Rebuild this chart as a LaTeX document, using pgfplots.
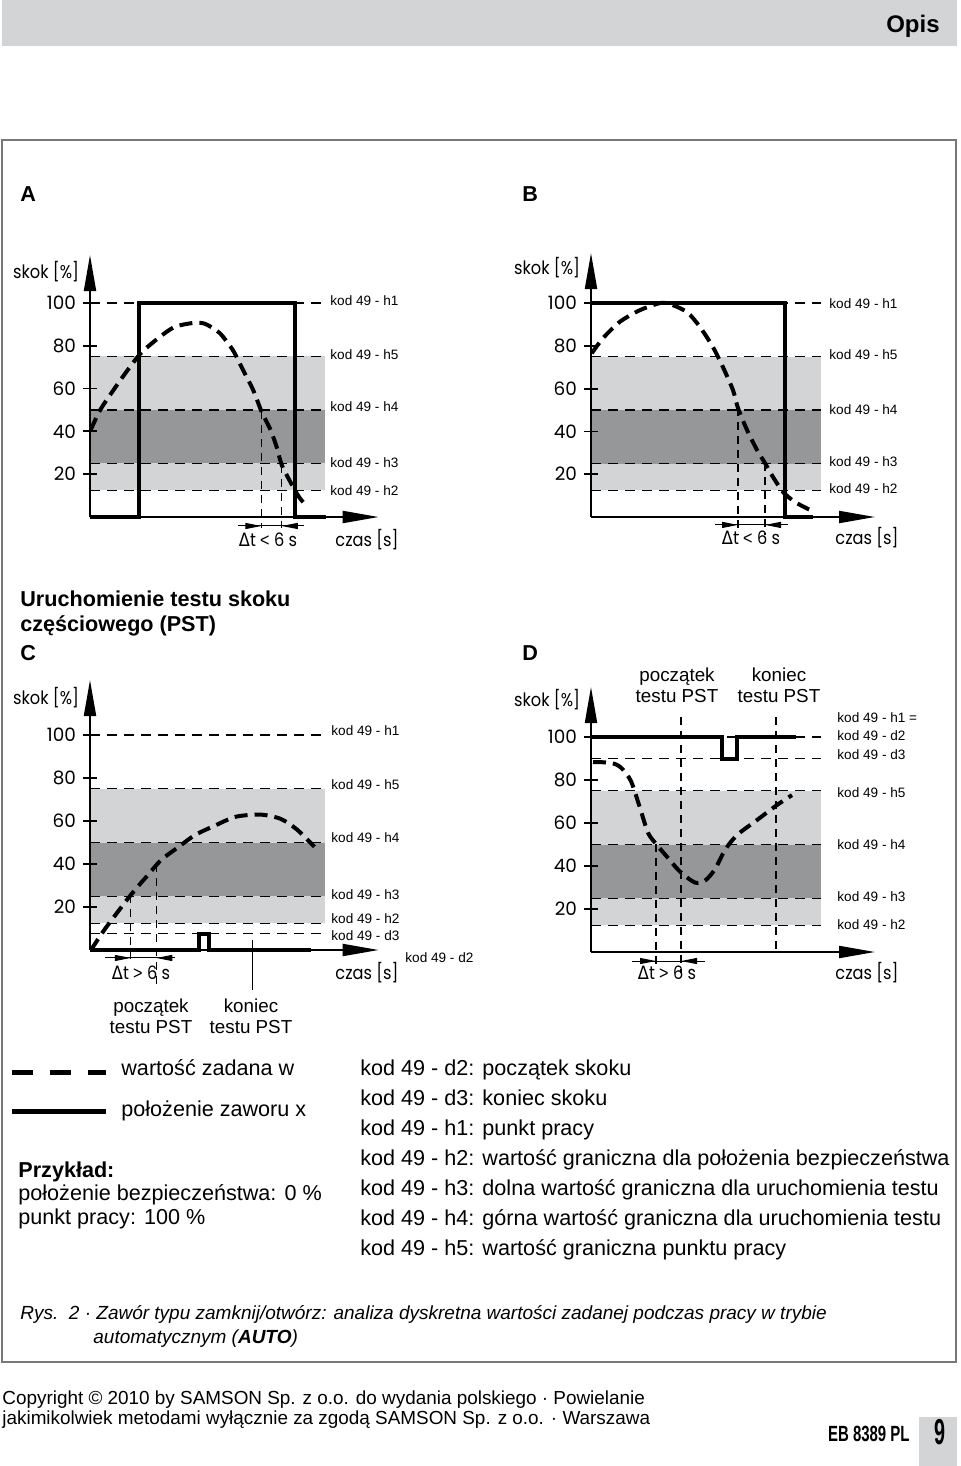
\documentclass[border=0pt]{standalone}
\usepackage{fontspec}
\setmainfont{Liberation Sans}
\newfontfamily\fut{Poppins}
\newfontfamily\dej{DejaVu Sans}
\usepackage{pgfplots}
\pgfplotsset{compat=1.18}
\usetikzlibrary{arrows.meta}
\definecolor{bandL}{RGB}{211,212,214}
\definecolor{bandD}{RGB}{150,151,153}
\definecolor{hdr}{RGB}{211,212,214}
\definecolor{frm}{RGB}{120,120,120}
\newcommand\futf{\fut\fontsize{9.2}{11}\selectfont}
\newcommand\fl[1]{\scalebox{0.88}[1]{\fut\fontsize{9.2}{11}\selectfont #1}}
\newcommand\kodf{\fontsize{6.8}{8}\selectfont}
\newcommand\bodyf{\fontsize{10.8}{15}\selectfont}
\newcommand\smf{\fontsize{9.4}{11}\selectfont}
\newcommand\dt{{\dej Δ}t}
\pgfplotsset{
  valve/.style={
    scale only axis, axis lines=left, axis on top,
    every outer x axis line/.append style={line width=1pt,-{Triangle[length=18pt,width=6pt]}},
    every outer y axis line/.append style={line width=1pt,-{Triangle[length=18pt,width=6pt]}},
    axis line style={line width=1pt,-{Triangle[length=18pt,width=6pt]}},
    xmin=0, ymin=0, xtick=\empty, ytick={20,40,60,80,100},
    tick align=center, major tick length=7pt, tick style={line width=0.9pt, black},
    yticklabel style={font=\futf},
    /pgf/number format/assume math mode=true,
    clip=false,
  },
  hline/.style={black, line width=0.6pt, dash pattern=on 5pt off 3.5pt},
  setw/.style={black, line width=2pt, dash pattern=on 6.5pt off 3.5pt, smooth, tension=0.45},
  posx/.style={black, line width=2pt},
  vline/.style={black, line width=0.6pt, dash pattern=on 4pt off 3pt},
  dtarr/.style={black, line width=0.5pt, -{Triangle[length=8pt,width=3pt]}},
}
\begin{document}
\begin{tikzpicture}[x=0.5pt,y=-0.5pt]
\useasboundingbox (0,0) rectangle (960,1466);
% header and frame
\fill[hdr] (2,0) rectangle (957,46);
\node[anchor=base east, inner sep=0pt, font=\bfseries\fontsize{12}{14}\selectfont] at (940,33) {Opis};
\draw[frm, line width=1pt] (2,140) rectangle (956,1362);
\node[anchor=base west, inner sep=0pt, font=\bfseries\bodyf] at (20,202) {A};
\node[anchor=base west, inner sep=0pt, font=\bfseries\bodyf] at (522,202) {B};

% ---------------- A ----------------
\begin{axis}[valve, at={(45pt,-258.5pt)}, anchor=south west, width=141.5pt, height=131pt, xmax=283, ymax=122.4]
\addplot[fill=bandL, draw=none] coordinates {(0,12.5)(230,12.5)(230,75)(0,75)};
\addplot[fill=bandD, draw=none] coordinates {(0,25)(230,25)(230,50)(0,50)};
\addplot[hline] coordinates {(0,100)(230,100)};
\addplot[hline] coordinates {(0,75)(230,75)};
\addplot[hline] coordinates {(0,50)(230,50)};
\addplot[hline] coordinates {(0,25)(230,25)};
\addplot[hline] coordinates {(0,12.5)(230,12.5)};
\addplot[setw] coordinates {(0.7,40.7)(10,50)(23,59.3)(37,68.7)(50,76.6)(67,83.6)(83,88.8)(102,90.7)(113,90.2)(127,86)(140,78)(150,68.7)(160,59.3)(168,49.5)(177,40.7)(183,32.7)(188,24.3)(197,15.9)(205,9.3)(213,4.7)};
\addplot[posx] coordinates {(0,0)(48,0)(48,100)(201,100)(201,0)(231,0)};
\addplot[vline] coordinates {(168,49.5)(168,-5.1)};
\addplot[vline] coordinates {(188,24.3)(188,-5.1)};
\addplot[black, line width=0.5pt] coordinates {(145,-4.2)(210,-4.2)};
\addplot[dtarr] coordinates {(145,-4.2)(168,-4.2)};
\addplot[dtarr] coordinates {(210,-4.2)(188,-4.2)};
\end{axis}

% ---------------- B ----------------
\begin{axis}[valve, at={(295.5pt,-258.5pt)}, anchor=south west, width=142pt, height=132pt, xmax=284, ymax=123.4]
\addplot[fill=bandL, draw=none] coordinates {(0,12.5)(230,12.5)(230,75)(0,75)};
\addplot[fill=bandD, draw=none] coordinates {(0,25)(230,25)(230,50)(0,50)};
\addplot[hline] coordinates {(0,100)(230,100)};
\addplot[hline] coordinates {(0,75)(230,75)};
\addplot[hline] coordinates {(0,50)(230,50)};
\addplot[hline] coordinates {(0,25)(230,25)};
\addplot[hline] coordinates {(0,12.5)(230,12.5)};
\addplot[setw] coordinates {(0.7,76.5)(12,83.6)(29,91.3)(49,96.7)(69,100)(79,99.5)(96,95.8)(109,88.8)(122,79.4)(132,70)(142,59.3)(147,50.9)(156,40.7)(166,31.3)(174,25.2)(182,18.7)(192,11.7)(204,7)(219,3.3)};
\addplot[posx] coordinates {(0,100)(194,100)(194,0)(222,0)};
\addplot[vline] coordinates {(147,50.9)(147,-8.4)};
\addplot[vline] coordinates {(174,25.2)(174,-8.4)};
\addplot[black, line width=0.5pt] coordinates {(124,-3.7)(197,-3.7)};
\addplot[dtarr] coordinates {(124,-3.7)(147,-3.7)};
\addplot[dtarr] coordinates {(197,-3.7)(174,-3.7)};
\end{axis}

% ---------------- C ----------------
\begin{axis}[valve, at={(45pt,-475pt)}, anchor=south west, width=141.5pt, height=135pt, xmax=283, ymax=125.6]
\addplot[fill=bandL, draw=none] coordinates {(0,12.5)(230,12.5)(230,75)(0,75)};
\addplot[fill=bandD, draw=none] coordinates {(0,25)(230,25)(230,50)(0,50)};
\addplot[hline] coordinates {(0,100)(230,100)};
\addplot[hline] coordinates {(0,75)(230,75)};
\addplot[hline] coordinates {(0,50)(230,50)};
\addplot[hline] coordinates {(0,25)(230,25)};
\addplot[hline] coordinates {(0,12.5)(230,12.5)};
\addplot[hline] coordinates {(0,7.5)(230,7.5)};
\addplot[setw] coordinates {(1,0)(15,10)(40,25.6)(57,35)(70,42)(87,48)(103,53.5)(123,58)(143,62)(167,63)(187,61)(203,56)(220,48)};
\addplot[posx] coordinates {(0,0)(107,0)(107,7.5)(117,7.5)(117,0)(217,0)};
\addplot[vline] coordinates {(40,25.6)(40,-4.7)};
\addplot[vline] coordinates {(65,40)(65,-18.6)};
\addplot[black, line width=0.6pt] coordinates {(159,4.7)(159,-18.6)};
\addplot[black, line width=0.5pt] coordinates {(15,-3.7)(83,-3.7)};
\addplot[dtarr] coordinates {(15,-3.7)(40,-3.7)};
\addplot[dtarr] coordinates {(83,-3.7)(65,-3.7)};
\end{axis}

% ---------------- D ----------------
\begin{axis}[valve, at={(295.5pt,-476pt)}, anchor=south west, width=142pt, height=132.5pt, xmax=284, ymax=123.3]
\addplot[fill=bandL, draw=none] coordinates {(0,12.5)(230,12.5)(230,75)(0,75)};
\addplot[fill=bandD, draw=none] coordinates {(0,25)(230,25)(230,50)(0,50)};
\addplot[hline] coordinates {(0,100)(230,100)};
\addplot[hline] coordinates {(0,90)(230,90)};
\addplot[hline] coordinates {(0,75)(230,75)};
\addplot[hline] coordinates {(0,50)(230,50)};
\addplot[hline] coordinates {(0,25)(230,25)};
\addplot[hline] coordinates {(0,12.5)(230,12.5)};
\addplot[setw] coordinates {(2,88.4)(20,88)(30,85.8)(40,79.5)(49,67)(57,55.5)(65,50.3)(76,44.3)(89,37.4)(104,32.3)(114,33.2)(124,38.5)(134,47.5)(146,54.4)(166,61.4)(186,68.4)(201,73)};
\addplot[posx] coordinates {(0,100)(131,100)(131,90)(146,90)(146,100)(205,100)};
\addplot[vline] coordinates {(65,50.3)(65,-7.4)};
\addplot[vline] coordinates {(90,109.3)(90,-9.8)};
\addplot[vline] coordinates {(185,109.3)(185,0)};
\addplot[black, line width=0.5pt] coordinates {(41,-4.2)(114,-4.2)};
\addplot[dtarr] coordinates {(41,-4.2)(65,-4.2)};
\addplot[dtarr] coordinates {(114,-4.2)(90,-4.2)};
\end{axis}

% ----- chart texts -----
\foreach \x/\y in {46/272,547/268,46/698,547/700}{\node[inner sep=0pt] at (\x,\y) {\fl{skok [\%]}};}
\foreach \x/\y in {367/540,867/538,367/973,867/973}{\node[inner sep=0pt] at (\x,\y) {\fl{czas [s]}};}
\node[inner sep=0pt] at (268,540) {\fl{\dt\ {\rmfamily <} 6 s}};
\node[inner sep=0pt] at (751,538) {\fl{\dt\ {\rmfamily <} 6 s}};
\node[inner sep=0pt] at (141,973) {\fl{\dt\ {\rmfamily >} 6 s}};
\node[inner sep=0pt] at (667,973) {\fl{\dt\ {\rmfamily >} 6 s}};

\foreach \y/\t in {305.5/h1,359/h5,411.5/h4,467/h3,495/h2}{\node[anchor=base west,inner sep=0pt,font=\kodf] at (330,\y) {kod 49 - \t};}
\foreach \y/\t in {308/h1,359/h5,414/h4,466/h3,493/h2}{\node[anchor=base west,inner sep=0pt,font=\kodf] at (829,\y) {kod 49 - \t};}
\foreach \y/\t in {735/h1,789/h5,842/h4,899/h3,923/h2,940/d3}{\node[anchor=base west,inner sep=0pt,font=\kodf] at (331,\y) {kod 49 - \t};}
\node[anchor=base west,inner sep=0pt,font=\kodf] at (405,962) {kod 49 - d2};
\foreach \y/\t in {722/{h1 =},740/d2,759/d3,797/h5,849/h4,901/h3,929/h2}{\node[anchor=base west,inner sep=0pt,font=\kodf] at (837,\y) {kod 49 - \t};}

\node[anchor=base west, inner sep=0pt, font=\bfseries\bodyf] at (20,606) {Uruchomienie testu skoku};
\node[anchor=base west, inner sep=0pt, font=\bfseries\bodyf] at (20,631) {częściowego (PST)};
\node[anchor=base west, inner sep=0pt, font=\bfseries\bodyf] at (20,660) {C};
\node[anchor=base west, inner sep=0pt, font=\bfseries\bodyf] at (522,660) {D};

\node[anchor=base, inner sep=0pt, font=\smf] at (151,1012) {początek};
\node[anchor=base, inner sep=0pt, font=\smf] at (151,1033) {testu PST};
\node[anchor=base, inner sep=0pt, font=\smf] at (251,1012) {koniec};
\node[anchor=base, inner sep=0pt, font=\smf] at (251,1033) {testu PST};
\node[anchor=base, inner sep=0pt, font=\smf] at (677,681) {początek};
\node[anchor=base, inner sep=0pt, font=\smf] at (677,702) {testu PST};
\node[anchor=base, inner sep=0pt, font=\smf] at (779,681) {koniec};
\node[anchor=base, inner sep=0pt, font=\smf] at (779,702) {testu PST};

% ----- legend -----
\draw[line width=2.5pt, dash pattern=on 10.5pt off 8.5pt] (12,1072) -- (106,1072);
\draw[line width=2.5pt] (12,1111) -- (106,1111);
\node[anchor=base west, inner sep=0pt, font=\bodyf] at (121,1075) {wartość zadana w};
\node[anchor=base west, inner sep=0pt, font=\bodyf] at (121,1116) {położenie zaworu x};
\node[anchor=base west, inner sep=0pt, font=\bfseries\bodyf] at (18,1177) {Przykład:};
\node[anchor=base west, inner sep=0pt, font=\bodyf] at (18,1200) {położenie bezpieczeństwa: 0 \%};
\node[anchor=base west, inner sep=0pt, font=\bodyf] at (18,1224) {punkt pracy: 100 \%};

\foreach \y/\t in {1075/{d2: początek skoku},1105/{d3: koniec skoku},1135/{h1: punkt pracy},1165/{h2: wartość graniczna dla położenia bezpieczeństwa},1195/{h3: dolna wartość graniczna dla uruchomienia testu},1225/{h4: górna wartość graniczna dla uruchomienia testu},1255/{h5: wartość graniczna punktu pracy}}{\node[anchor=base west, inner sep=0pt, font=\bodyf] at (360,\y) {kod 49 - \t};}

% ----- caption and footer -----
\node[anchor=base west, inner sep=0pt, font=\itshape\fontsize{9.5}{12}\selectfont] at (20,1319) {Rys.\ \ 2 · Zawór typu zamknij/otwórz: analiza dyskretna wartości zadanej podczas pracy w trybie};
\node[anchor=base west, inner sep=0pt, font=\itshape\fontsize{9.5}{12}\selectfont] at (93,1343) {automatycznym (\textbf{AUTO})};
\node[anchor=base west, inner sep=0pt, font=\fontsize{9.45}{11}\selectfont] at (2,1404) {Copyright © 2010 by SAMSON Sp. z o.o. do wydania polskiego · Powielanie};
\node[anchor=base west, inner sep=0pt, font=\fontsize{9.45}{11}\selectfont] at (2,1424) {jakimikolwiek metodami wyłącznie za zgodą SAMSON Sp. z o.o. · Warszawa};
\node[anchor=base east, inner sep=0pt] at (910,1441) {\scalebox{0.68}[1]{\bfseries\fontsize{11}{12}\selectfont EB 8389 PL}};
\fill[hdr] (919,1417) rectangle (957,1466);
\node[anchor=base, inner sep=0pt] at (940,1444) {\scalebox{0.55}[1]{\bfseries\fontsize{18}{20}\selectfont 9}};
\end{tikzpicture}
\end{document}
